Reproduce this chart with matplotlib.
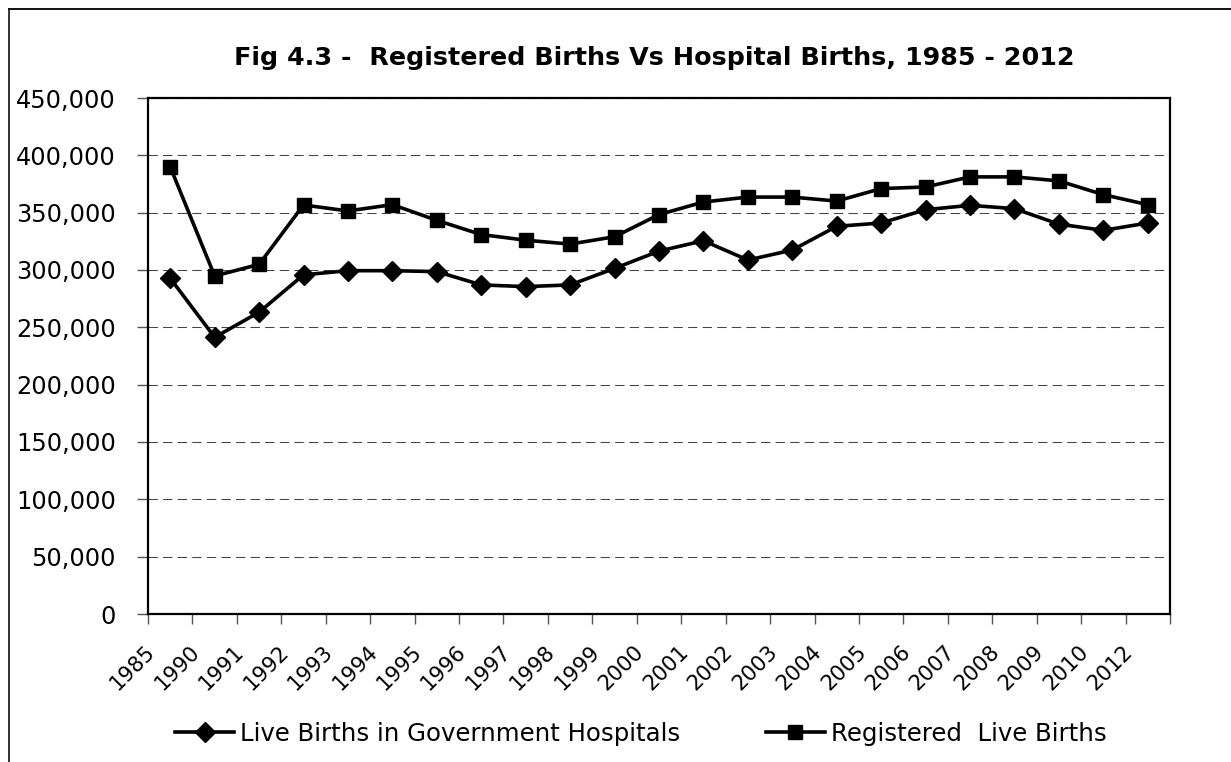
import matplotlib
matplotlib.use('Agg')
import matplotlib.pyplot as plt
from matplotlib.ticker import FuncFormatter, FixedLocator
from matplotlib.lines import Line2D
import matplotlib.transforms as mtransforms
import numpy as np

years = ['1985', '1990', '1991', '1992', '1993', '1994', '1995', '1996', '1997',
         '1998', '1999', '2000', '2001', '2002', '2003', '2004', '2005', '2006',
         '2007', '2008', '2009', '2010', '2012']
hospital = [292800, 241300, 263200, 295800, 299400, 299400, 298600, 287000, 285500,
            287000, 301400, 316500, 325500, 308700, 317400, 338100, 341000, 352600,
            356400, 353500, 340000, 334600, 341000]
registered = [389900, 294800, 304900, 356700, 351500, 357000, 343300, 330900, 326000,
              322600, 329000, 348300, 359300, 363600, 363600, 360100, 371000, 372400,
              381200, 381200, 377700, 365700, 357000]

title = 'Fig 4.3 -  Registered Births Vs Hospital Births, 1985 - 2012'
series_labels = ['Live Births in Government Hospitals', 'Registered  Live Births']

W, H = 1231, 762
fig = plt.figure(figsize=(W / 100, H / 100), dpi=100)
ax = fig.add_axes([148 / W, 1 - 614 / H, (1170 - 148) / W, (614 - 98) / H])

x = np.arange(len(years))
ax.plot(x, hospital, color='black', lw=2.6, marker='D', ms=10.5,
        label=series_labels[0], zorder=3)
ax.plot(x, registered, color='black', lw=2.6, marker='s', ms=10,
        label=series_labels[1], zorder=3)

ax.set_xlim(-0.5, len(years) - 0.5)
ax.set_ylim(0, 450000)
ax.set_yticks(np.arange(0, 450001, 50000))
ax.yaxis.set_major_formatter(FuncFormatter(lambda v, p: f'{int(v):,}'))

# category boundaries as tick marks, labels at category centres
ax.xaxis.set_major_locator(FixedLocator(np.arange(-0.5, len(years), 1.0)))
ax.xaxis.set_major_formatter(FuncFormatter(lambda v, p: ''))
ax.set_xticks(x, minor=True)
ax.set_xticklabels(years, minor=True, rotation=45, ha='right', va='top', fontsize=15.3)
ax.tick_params(axis='x', which='minor', length=0, pad=20)
ax.tick_params(axis='x', which='major', length=7, width=1, color='#555555')
ax.tick_params(axis='y', length=8, width=1, color='#555555', labelsize=17.3, pad=15)
offset = mtransforms.ScaledTranslation(-11 / 100, 0, fig.dpi_scale_trans)
for lbl in ax.xaxis.get_minorticklabels():
    lbl.set_transform(lbl.get_transform() + offset)

ax.yaxis.grid(True, color='#444444', lw=0.75, linestyle=(0, (9, 5)))
ax.set_axisbelow(True)
for s in ax.spines.values():
    s.set_linewidth(1.6)
    s.set_color('black')

fig.text(654 / W, 1 - 58 / H, title, ha='center', va='center',
         fontsize=18.3, fontweight='bold')

fig.legend(loc='center', bbox_to_anchor=(641 / W, 1 - 734 / H), ncol=2,
           frameon=False, fontsize=17.6, handlelength=2.4, handletextpad=0.25,
           columnspacing=3.5, numpoints=1)

# outer chart-area border (left and top visible)
fig.add_artist(Line2D([8.5 / W, 8.5 / W], [0, 1 - 9 / H], transform=fig.transFigure,
                      color='#333333', lw=1.4))
fig.add_artist(Line2D([8.5 / W, 1], [1 - 9 / H, 1 - 9 / H], transform=fig.transFigure,
                      color='#111111', lw=1.4))

fig.savefig('out.png', dpi=100)
